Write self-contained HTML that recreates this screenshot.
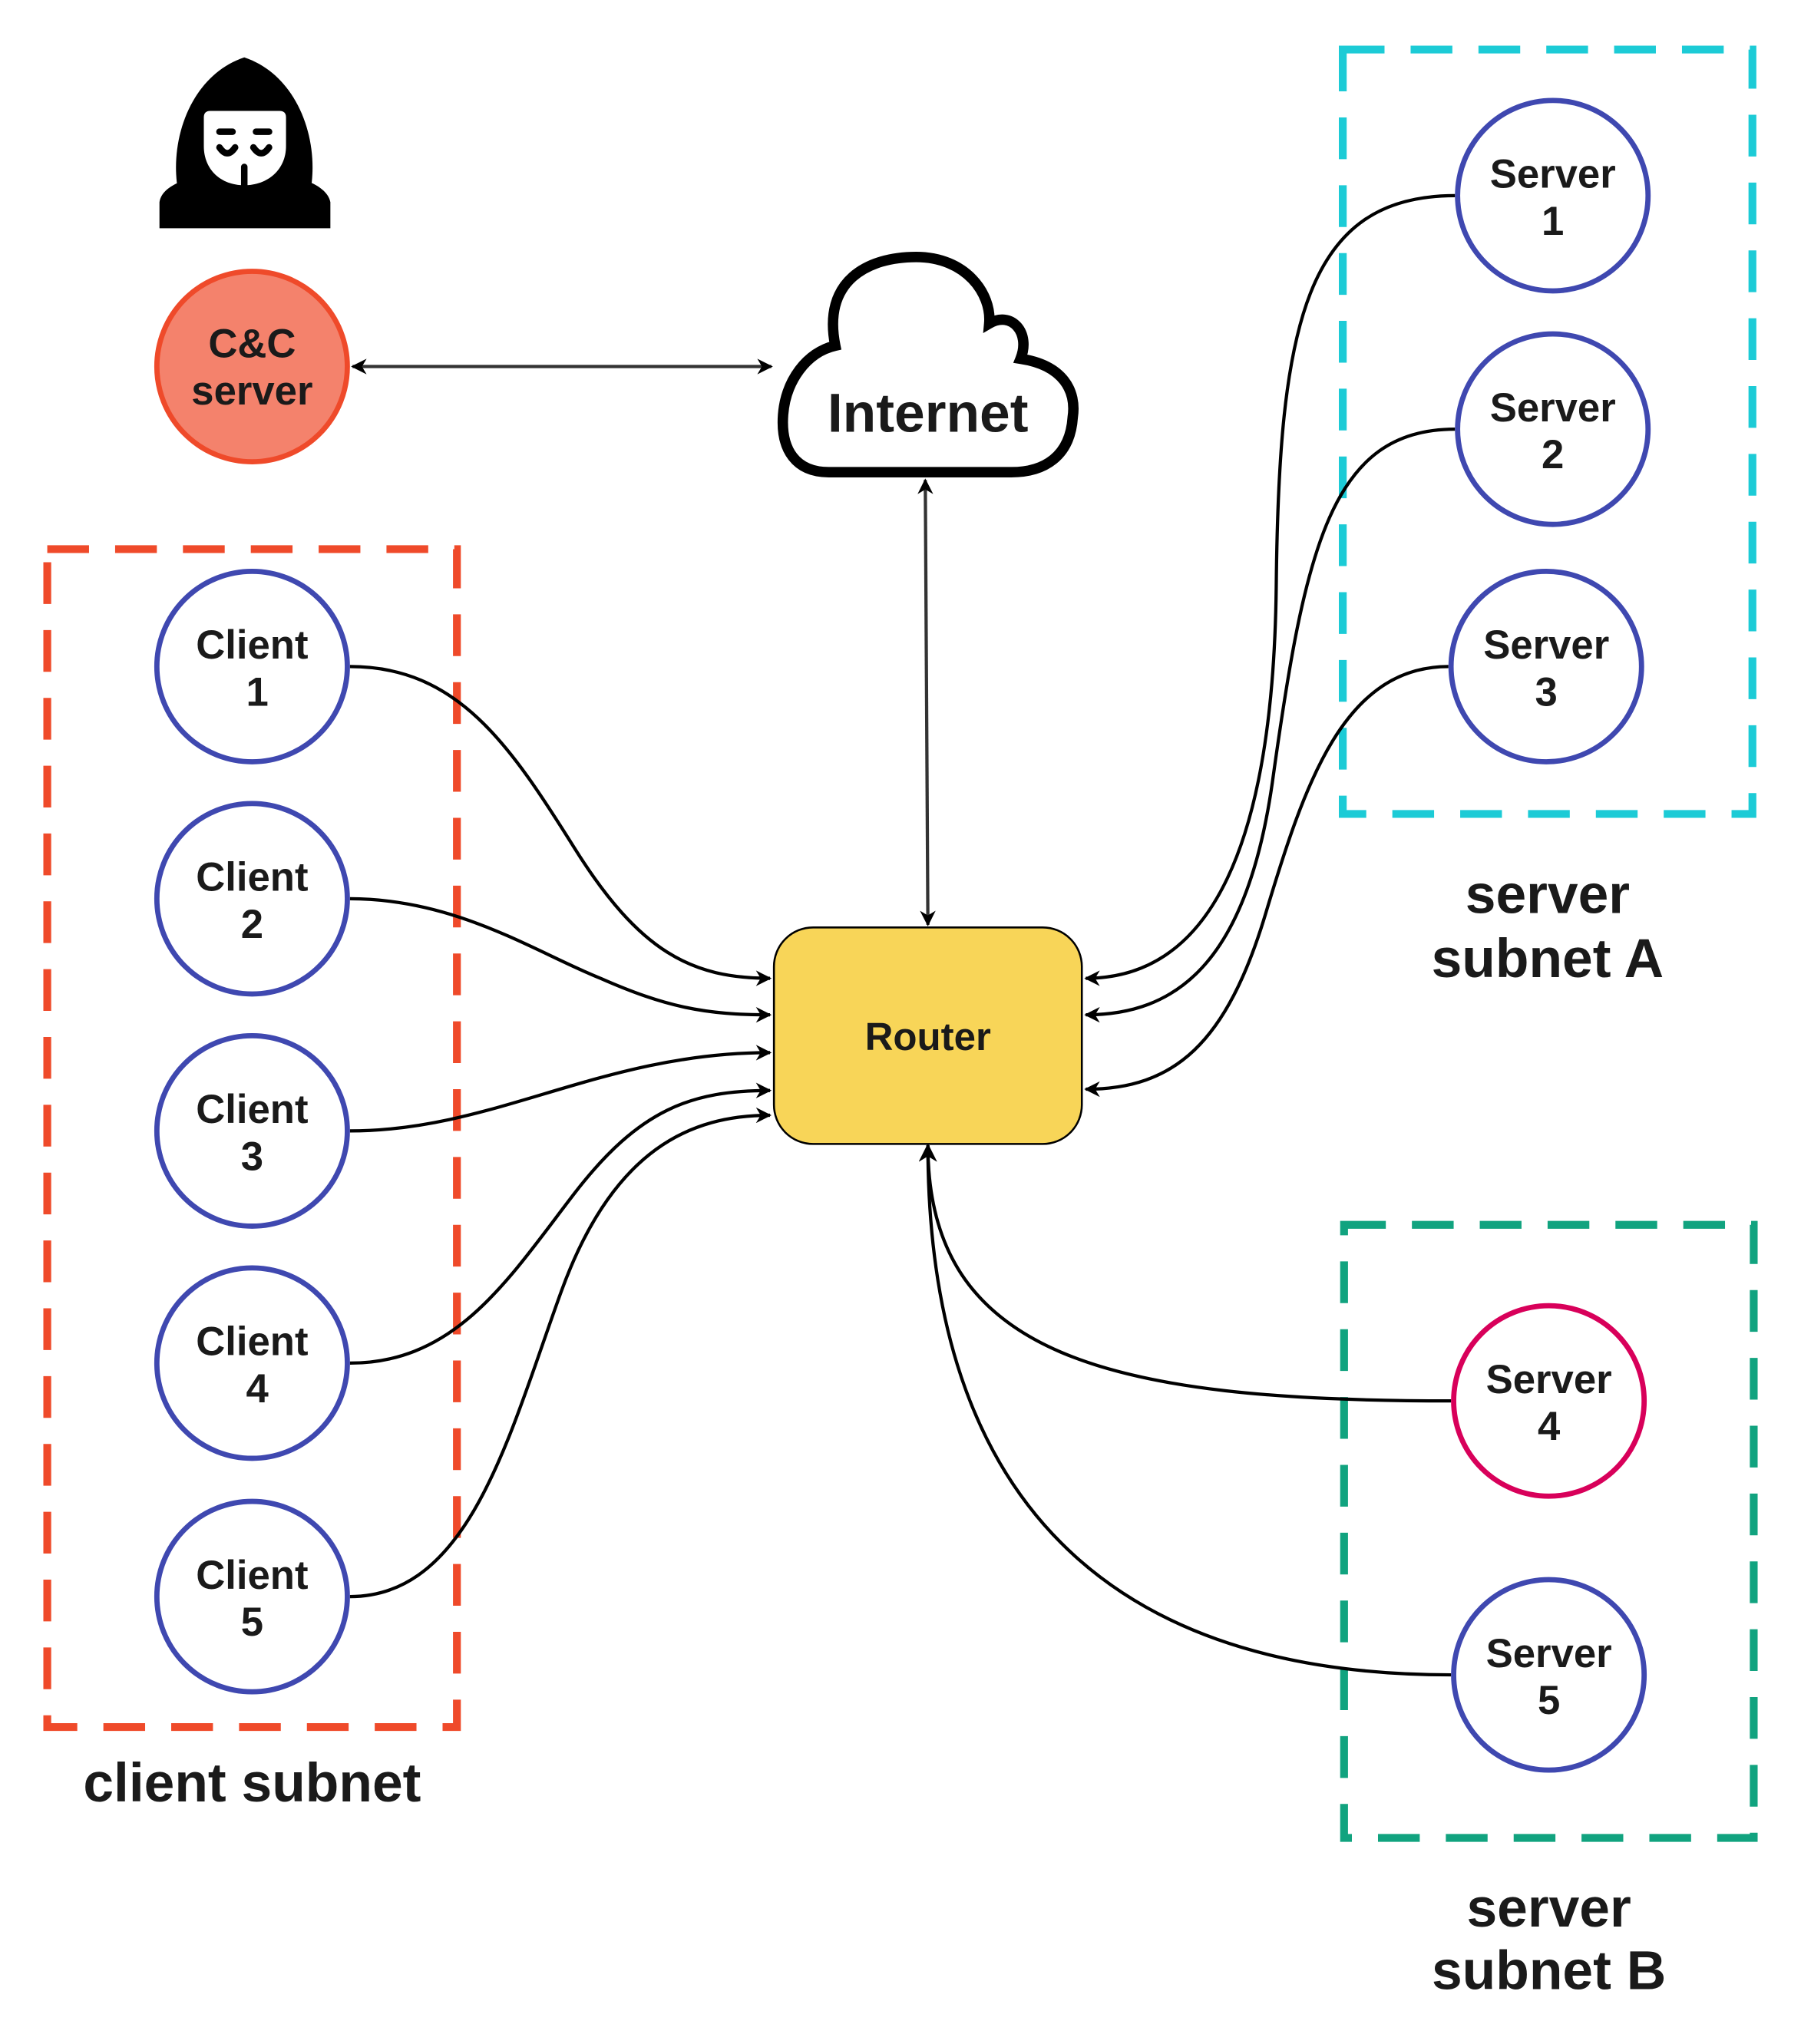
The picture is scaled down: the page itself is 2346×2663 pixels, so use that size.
<!DOCTYPE html>
<html><head><meta charset="utf-8"><style>
html,body{margin:0;padding:0;background:#fff;}
svg{display:block;}
text{font-family:"Liberation Sans",sans-serif;font-weight:bold;fill:#1a1a1a;text-anchor:middle;}
</style></head><body>
<svg width="2346" height="2663" viewBox="0 0 1380 1567" xmlns="http://www.w3.org/2000/svg">
<defs>
<marker id="a" viewBox="0 0 10 10" refX="9" refY="5" markerWidth="12" markerHeight="12" orient="auto-start-reverse" markerUnits="userSpaceOnUse"><path d="M0,0 L10,5 L0,10 L3,5 z" fill="#000"/></marker>
<marker id="b" viewBox="0 0 10 10" refX="9" refY="5" markerWidth="14" markerHeight="14" orient="auto-start-reverse" markerUnits="userSpaceOnUse"><path d="M0,0 L10,5 L0,10 L3,5 z" fill="#000"/></marker>
</defs>
<!-- hacker -->
<path d="M137,150 C128,110 145,58 187,44 C229,58 246,110 237,150 Z" fill="#000"/>
<path d="M122,175 L122,155 C124,140 150,135 170,130 L205,130 C225,135 250,140 253,155 L253,175 Z" fill="#000"/>
<path d="M156,90 Q156,85 161,85 L214,85 Q219,85 219,90 L219,112 C219,130 205,142 187,142 C169,142 156,130 156,112 Z" fill="#fff"/>
<g stroke="#000" stroke-width="5" stroke-linecap="round" fill="none">
<line x1="168" y1="101" x2="178" y2="101"/><line x1="196" y1="101" x2="206" y2="101"/>
<path d="M168,113 Q174,122 180,113"/><path d="M194,113 Q200,122 206,113"/>
<line x1="187" y1="128" x2="187" y2="142"/>
</g>
<!-- C&C -->
<circle cx="193" cy="281" r="73" fill="#f4826c" stroke="#ef4a2a" stroke-width="4"/>
<text x="193" y="274" font-size="31">C&amp;C</text>
<text x="193" y="310" font-size="31">server</text>
<line x1="270" y1="281" x2="591" y2="281" stroke="#333" stroke-width="2.5" marker-start="url(#a)" marker-end="url(#a)"/>
<!-- cloud -->
<path d="M640,265 C630,215 665,197 702,197 C740,197 760,225 758,248 C775,238 790,255 782,275 C815,280 825,300 822,320 C820,350 800,362 775,362 L635,362 C610,362 598,345 600,318 C602,292 618,270 640,265 Z" fill="#fff" stroke="#000" stroke-width="8"/>
<text x="711" y="331" font-size="42">Internet</text>
<line x1="709" y1="368" x2="711" y2="709" stroke="#333" stroke-width="2.5" marker-start="url(#a)" marker-end="url(#a)"/>
<!-- router -->
<rect x="593" y="711" width="236" height="166" rx="30" fill="#f8d558" stroke="#000" stroke-width="1.5"/>
<text x="711" y="805" font-size="30">Router</text>
<!-- subnets -->
<rect x="36" y="421" width="314" height="903" fill="none" stroke="#ef4a2a" stroke-width="6" stroke-dasharray="32 20"/>
<rect x="1029" y="38" width="314" height="586" fill="none" stroke="#1ccbd6" stroke-width="6" stroke-dasharray="32 20"/>
<rect x="1030" y="939" width="314" height="470" fill="none" stroke="#11a37f" stroke-width="6" stroke-dasharray="32 20"/>
<!-- edges -->
<g fill="none" stroke="#000" stroke-width="2.5" marker-end="url(#a)">
<path d="M268,511 C350,511 390,570 440,650 C490,730 530,750 590,750"/>
<path d="M268,689 C350,689 410,730 460,750 C510,772 540,778 590,778"/>
<path d="M268,867 C380,867 460,807 590,807"/>
<path d="M268,1045 C350,1045 390,980 440,915 C490,850 530,836 590,836"/>
<path d="M268,1224 C360,1224 390,1100 430,990 C470,880 530,855 590,855"/>
<path d="M1115,150 C1000,150 980,250 978,450 C975,700 900,750 832,750"/>
<path d="M1115,329 C1020,329 1000,420 975,600 C955,740 900,778 832,778"/>
<path d="M1110,511 C1030,511 1000,600 970,700 C940,800 900,835 832,835"/>
</g>
<g fill="none" stroke="#000" stroke-width="2.5" marker-end="url(#b)">
<path d="M1112,1074 C850,1074 711,1040 711,878"/>
<path d="M1112,1284 C850,1284 711,1150 711,878"/>
</g>
<!-- nodes -->
<g fill="#fff" stroke="#3f48b0" stroke-width="4">
<circle cx="193" cy="511" r="73"/><circle cx="193" cy="689" r="73"/><circle cx="193" cy="867" r="73"/><circle cx="193" cy="1045" r="73"/><circle cx="193" cy="1224" r="73"/>
<circle cx="1190" cy="150" r="73"/><circle cx="1190" cy="329" r="73"/><circle cx="1185" cy="511" r="73"/><circle cx="1187" cy="1284" r="73"/>
</g>
<circle cx="1187" cy="1074" r="73" fill="#fff" stroke="#d8005a" stroke-width="4"/>
<g font-size="31">
<text x="193" y="505">Client</text><text x="197" y="541">1</text>
<text x="193" y="683">Client</text><text x="193" y="719">2</text>
<text x="193" y="861">Client</text><text x="193" y="897">3</text>
<text x="193" y="1039">Client</text><text x="197" y="1075">4</text>
<text x="193" y="1218">Client</text><text x="193" y="1254">5</text>
<text x="1190" y="144">Server</text><text x="1190" y="180">1</text>
<text x="1190" y="323">Server</text><text x="1190" y="359">2</text>
<text x="1185" y="505">Server</text><text x="1185" y="541">3</text>
<text x="1187" y="1068">Server</text><text x="1187" y="1104">4</text>
<text x="1187" y="1278">Server</text><text x="1187" y="1314">5</text>
</g>
<g font-size="42">
<text x="193" y="1381">client subnet</text>
<text x="1186" y="700">server</text><text x="1186" y="749">subnet A</text>
<text x="1187" y="1477">server</text><text x="1187" y="1525">subnet B</text>
</g>
</svg>
</body></html>
